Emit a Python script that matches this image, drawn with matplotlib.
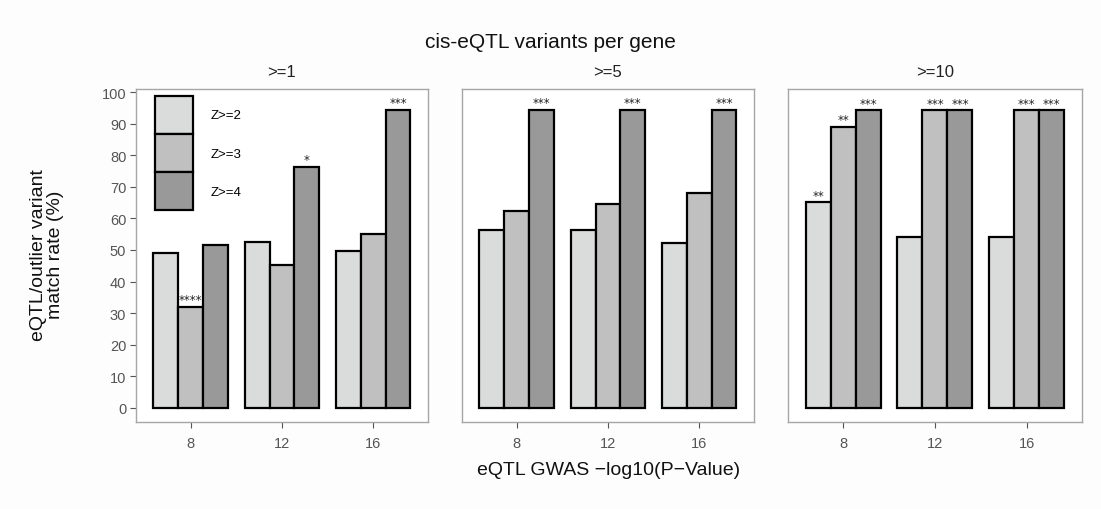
import matplotlib

matplotlib.use("Agg")
import matplotlib.pyplot as plt
import numpy as np
from matplotlib.patches import Patch

plt.rcParams["font.family"] = ["Liberation Sans Narrow", "Liberation Sans", "DejaVu Sans"]

# data
panels = [">=1", ">=5", ">=10"]
gwas_cutoffs = ["8", "12", "16"]
z_levels = ["Z>=2", "Z>=3", "Z>=4"]

match_rate = {
    ">=1": {"Z>=2": [49.0, 52.5, 49.8], "Z>=3": [32.0, 45.2, 55.1], "Z>=4": [51.7, 76.3, 94.4]},
    ">=5": {"Z>=2": [56.2, 56.4, 52.1], "Z>=3": [62.2, 64.4, 68.1], "Z>=4": [94.4, 94.4, 94.4]},
    ">=10": {"Z>=2": [65.1, 54.1, 54.1], "Z>=3": [89.0, 94.2, 94.2], "Z>=4": [94.2, 94.2, 94.2]},
}
stars = {
    ">=1": {"Z>=2": ["", "", ""], "Z>=3": ["****", "", ""], "Z>=4": ["", "*", "***"]},
    ">=5": {"Z>=2": ["", "", ""], "Z>=3": ["", "", ""], "Z>=4": ["***", "***", "***"]},
    ">=10": {"Z>=2": ["**", "", ""], "Z>=3": ["**", "***", "***"], "Z>=4": ["***", "***", "***"]},
}

fills = {"Z>=2": "#dadbdb", "Z>=3": "#c0c0c0", "Z>=4": "#999999"}
frame_col = "#a6a6a6"
tick_col = "#555555"

fig = plt.figure(figsize=(11.01, 5.10), dpi=100)
fig.patch.set_facecolor("#fdfdfd")

lefts = [0.1235, 0.4196, 0.7157]
widths = [0.2652, 0.2652, 0.2670]
bottom, height = 0.1706, 0.653

x = np.arange(len(gwas_cutoffs)) + 1
bw = 0.272
axes = []
for i, name in enumerate(panels):
    ax = fig.add_axes([lefts[i], bottom, widths[i], height])
    axes.append(ax)
    ax.set_facecolor("white")
    for j, z in enumerate(z_levels):
        xs = x + (j - 1) * bw
        vals = match_rate[name][z]
        ax.bar(xs, vals, width=bw, color=fills[z], edgecolor="black", linewidth=1.6)
        for xx, v, s in zip(xs, vals, stars[name][z]):
            if s:
                ax.text(xx, v + 0.2, s, ha="center", va="bottom", fontsize=8.5,
                        color="#222222", family=["DejaVu Sans"])
    ax.set_xlim(0.4, 3.6)
    ax.set_ylim(-4.5, 101)
    ax.set_xticks(x)
    ax.set_xticklabels(gwas_cutoffs, fontsize=10.5, color=tick_col)
    ax.tick_params(axis="x", length=4, color=tick_col, width=0.8, pad=6)
    for sp in ax.spines.values():
        sp.set_color(frame_col)
        sp.set_linewidth(1.0)
    if i == 0:
        ax.set_yticks(range(0, 101, 10))
        ax.set_yticklabels([str(t) for t in range(0, 101, 10)], fontsize=10.5, color=tick_col)
        ax.tick_params(axis="y", length=4, color=tick_col, width=0.8, pad=3)
    else:
        ax.set_yticks([])
    ax.set_title(name, fontsize=12, pad=9, color="#222222")

handles = [Patch(facecolor=fills[z], edgecolor="black", linewidth=1.6, label=z) for z in z_levels]
leg = axes[0].legend(handles=handles, loc="upper left", bbox_to_anchor=(0.065, 0.979),
                     frameon=False, fontsize=9.5, handlelength=2.9, handleheight=4.06,
                     handletextpad=1.3, labelspacing=0.0, borderaxespad=0.0, borderpad=0.0)

fig.text(0.5, 0.917, "cis-eQTL variants per gene", ha="center", va="center", fontsize=15, color="#111111")
fig.text(0.553, 0.077, "eQTL GWAS \u2212log10(P\u2212Value)", ha="center", va="center", fontsize=14, color="#111111")
fig.text(0.043, 0.5, "eQTL/outlier variant\nmatch rate (%)", ha="center", va="center",
         rotation=90, fontsize=14, color="#111111", linespacing=1.0)

fig.savefig("out.png", dpi=100, facecolor=fig.get_facecolor())
